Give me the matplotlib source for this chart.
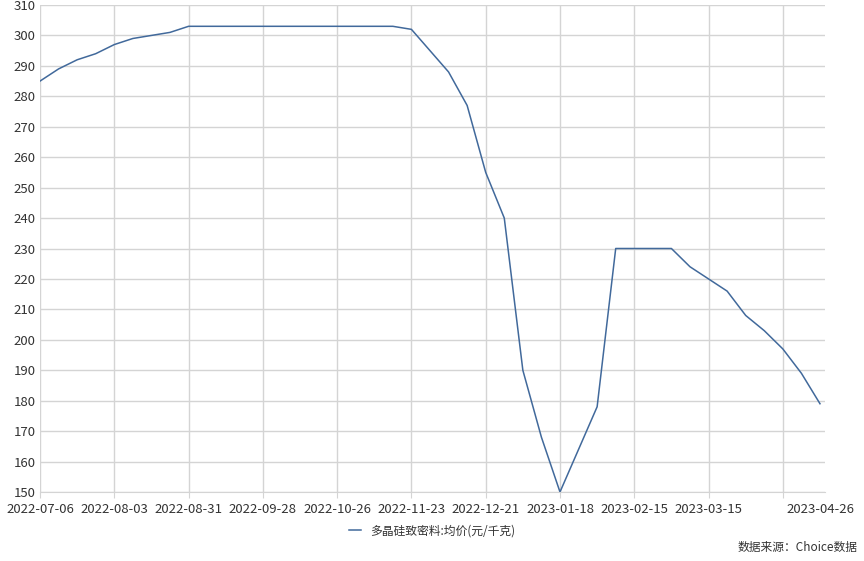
import matplotlib
matplotlib.use("Agg")
import matplotlib.pyplot as plt
import pandas as pd

plt.rcParams['font.family'] = ['Noto Sans CJK SC', 'DejaVu Sans']

dates = pd.date_range("2022-07-06", "2023-04-26", freq="7D").strftime("%Y-%m-%d").tolist()
prices = [285, 289, 292, 294, 297, 299, 300, 301,
          303, 303, 303, 303, 303, 303, 303, 303, 303, 303, 303, 303,
          302, 295, 288, 277, 255, 240, 190, 168, 150, 164, 178,
          230, 230, 230, 230, 224, 220, 216, 208, 203, 197, 189, 179]
series_name = "多晶硅致密料:均价(元/千克)"
source_text = "数据来源：Choice数据"
y_ticks = list(range(150, 311, 10))

fig = plt.figure(figsize=(8.64, 5.61), dpi=100)
ax = fig.add_axes([40/864, 1-492/561, 785/864, 487/561])

x = list(range(len(dates)))
ax.plot(x, prices, color="#41699b", lw=1.1, label=series_name)

grid_idx = list(range(0, len(dates), 4))
label_idx = [i for i in grid_idx if i != 40]
ax.set_xticks(grid_idx, minor=False)
ax.set_xticklabels([dates[i] if i in label_idx else "" for i in grid_idx])
ax.set_xticks([len(dates) - 1], minor=True)
ax.set_xticklabels([dates[-1]], minor=True)
ax.tick_params(axis="x", which="minor", length=4, width=0, labelsize=9.5, colors="#333333", pad=4)

ax.set_xlim(0, len(dates) - 1 + 0.27)
ax.set_ylim(150, 310)
ax.set_yticks(y_ticks)

ax.grid(True, which="major", color="#d4d4d4", lw=1)
ax.set_axisbelow(True)
for s in ["top", "right", "left"]:
    ax.spines[s].set_visible(False)
ax.spines["bottom"].set_color("#d4d4d4")
ax.tick_params(axis="x", which="major", length=4, color="#d4d4d4", labelsize=9.5, colors="#333333", pad=4)
ax.tick_params(axis="y", length=0, labelsize=9.5, colors="#333333", pad=3)

fig.legend(loc="center", bbox_to_anchor=(432/864, 1-531/561), frameon=False,
           fontsize=8.5, handlelength=1.0, labelcolor="#333333")
fig.text(858/864, 1-547/561, source_text, ha="right", va="center", fontsize=8.5, color="#333333")

fig.savefig("out.png", dpi=100)
